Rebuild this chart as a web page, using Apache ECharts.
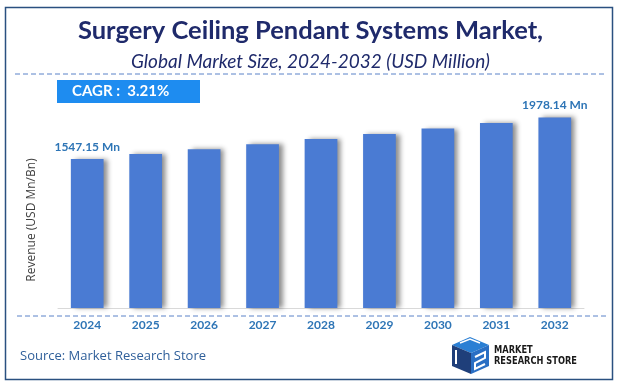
<!DOCTYPE html>
<html><head><meta charset="utf-8">
<script src="https://cdn.jsdelivr.net/npm/echarts@6/dist/echarts.min.js"></script>
<style>html,body{margin:0;padding:0;background:#fff}#c{width:621px;height:389px}</style>
</head><body><div id="c"></div>
<script>
const years = ['2024','2025','2026','2027','2028','2029','2030','2031','2032'];
const revenue = [1547.15, 1597, 1648, 1700, 1753, 1806, 1862, 1919, 1978.14];
const labelText = ['1547.15 Mn','','','','','','','','1978.14 Mn'];
const titleText = 'Surgery Ceiling Pendant Systems Market,';
const subtitleText = 'Global Market Size, 2024-2032 (USD Million)';
const cagrText = 'CAGR :  3.21%';
const sourceText = 'Source: Market Research Store';
const yName = 'Revenue (USD Mn/Bn)';

const chart = echarts.init(document.getElementById('c'), null, {renderer:'canvas'});
const navy = '#1f2a6b';
const labBlue = '#2e75b6';
chart.setOption({
  animation:false,
  backgroundColor:'#fff',
  title:[{
    text:titleText, left:'center', top:13,
    textStyle:{fontFamily:'Lato', fontWeight:'bold', fontSize:25.5, color:navy}
  },{
    text:subtitleText, left:'center', top:47,
    textStyle:{fontFamily:'Lato', fontStyle:'italic', fontWeight:'normal', fontSize:19, color:navy}
  }],
  grid:{left:58, right:37, top:96, bottom:81},
  xAxis:{
    type:'category', data:years,
    axisLine:{show:true, lineStyle:{color:'#d9d9d9', width:1}},
    axisTick:{show:false},
    axisLabel:{color:labBlue, fontWeight:'bold', fontSize:12, fontFamily:'Lato', margin:11}
  },
  yAxis:{
    type:'value', min:0, max:2200,
    axisLine:{show:false}, axisTick:{show:false}, axisLabel:{show:false},
    splitLine:{show:false}
  },
  series:[{
    type:'bar', data:revenue, barWidth:'56%',
    itemStyle:{color:'#4a7bd3', shadowColor:'rgba(0,0,0,0.45)', shadowBlur:5, shadowOffsetX:4, shadowOffsetY:0},
    label:{show:true, position:'top', distance:6,
      formatter:p=>labelText[p.dataIndex],
      color:labBlue, fontWeight:'bold', fontSize:12, fontFamily:'Lato'}
  }],
  graphic:[
    {type:'rect', shape:{x:5.5, y:7.5, width:607, height:372}, style:{fill:'none', stroke:'#2a5080', lineWidth:1.5}, z:100},
    {type:'line', shape:{x1:15, y1:74, x2:606, y2:74}, style:{stroke:'#5a82c8', lineWidth:1, lineDash:[5,3]}},
    {type:'line', shape:{x1:17, y1:316, x2:608, y2:316}, style:{stroke:'#5a82c8', lineWidth:1, lineDash:[5,3]}},
    {type:'rect', shape:{x:57, y:80, width:143, height:23}, style:{fill:'#1e8cf0'}},
    {type:'text', x:72, y:91.5, style:{text:cagrText, fill:'#fff', font:'bold 15px Lato', verticalAlign:'middle'}},
    {type:'text', x:32, y:220, rotation:Math.PI/2, style:{text:yName, fill:'#404040', font:'12px "Open Sans"', align:'center', verticalAlign:'middle'}},
    {type:'text', x:20, y:356, style:{text:sourceText, fill:'#2f5f9a', font:'13px "Open Sans"', verticalAlign:'middle'}},
    // logo icon (approximation)
    {type:'polygon', shape:{points:[[452,345],[470,337],[489,345],[471,353]]}, style:{fill:'#2a7fd4'}},
    {type:'polygon', shape:{points:[[452,345],[471,353],[471,374],[452,366]]}, style:{fill:'#1f3f7a'}},
    {type:'polygon', shape:{points:[[471,353],[489,345],[489,366],[471,374]]}, style:{fill:'#2a6fc4'}},
    {type:'polyline', shape:{points:[[456,350],[456,364]]}, style:{stroke:'#fff', lineWidth:2}},
    {type:'polyline', shape:{points:[[475,357],[485,352],[485,358],[475,363],[475,369],[485,364]]}, style:{stroke:'#fff', lineWidth:2, fill:'none'}},
    {type:'polyline', shape:{points:[[460,343],[470,339],[480,343]]}, style:{stroke:'#fff', lineWidth:1.5, fill:'none'}},
    {type:'text', x:494, y:350, scaleX:0.92, style:{text:'MARKET', fill:'#1a1a1a', font:'bold 10px "DejaVu Sans Condensed", "DejaVu Sans"', verticalAlign:'middle'}},
    {type:'text', x:494, y:361, scaleX:0.92, style:{text:'RESEARCH STORE', fill:'#1a1a1a', font:'bold 10px "DejaVu Sans Condensed", "DejaVu Sans"', verticalAlign:'middle'}}
  ]
});
</script></body></html>
